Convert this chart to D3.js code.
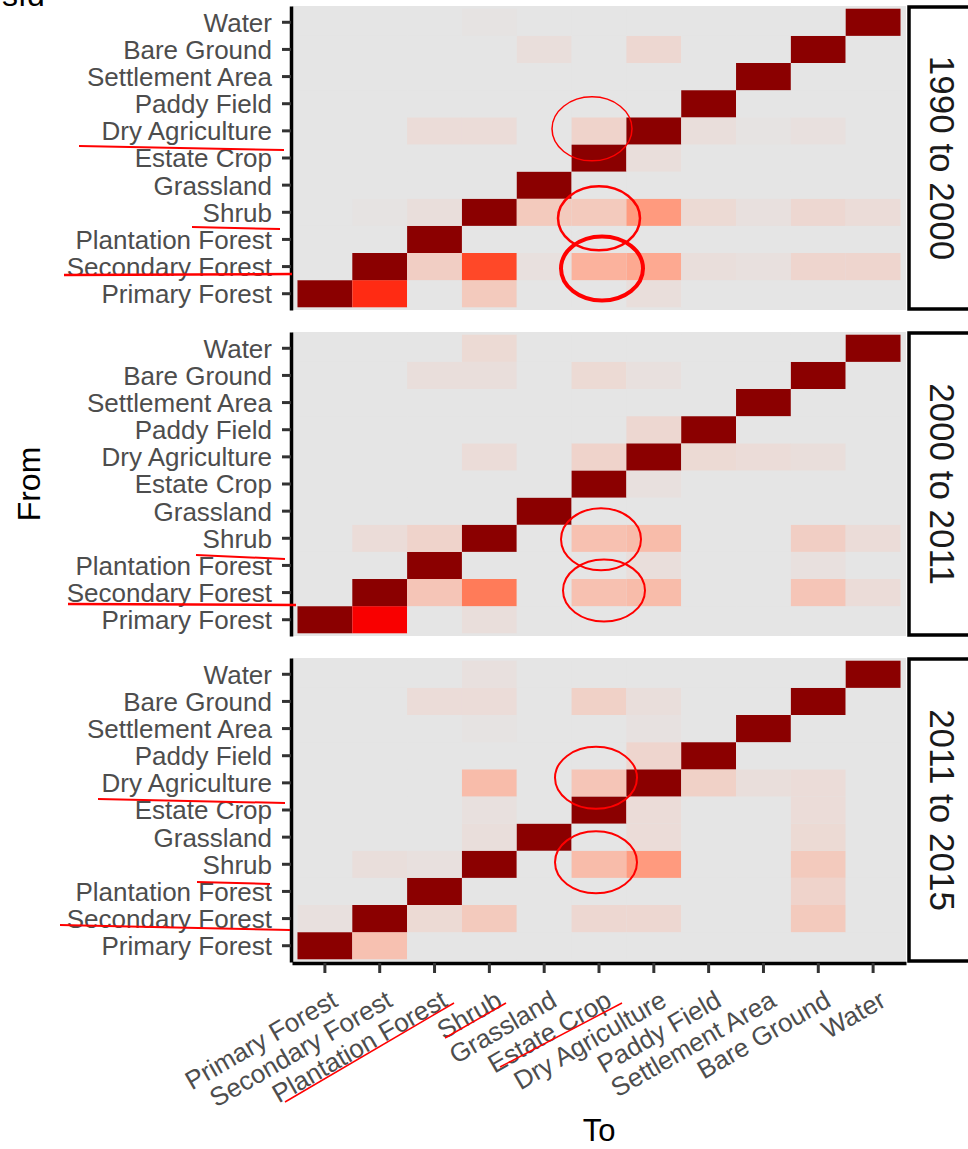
<!DOCTYPE html>
<html>
<head>
<meta charset="utf-8">
<script src="https://cdn.jsdelivr.net/npm/d3@7"></script>
<style>
  body { margin: 0; background: #fff; }
  text { font-family: "Liberation Sans", Arial, sans-serif; }
</style>
</head>
<body>
<svg id="chart" width="968" height="1149"></svg>
<script>
// land cover classes, used for both From (rows) and To (columns)
const classes = ["Primary Forest", "Secondary Forest", "Plantation Forest", "Shrub", "Grassland",
  "Estate Crop", "Dry Agriculture", "Paddy Field", "Settlement Area", "Bare Ground", "Water"];
const periods = ["1990 to 2000", "2000 to 2011", "2011 to 2015"];

// transition share (%), one row per From class (same order as classes), columns = To
const t1990_2000 = [
  [62, 33, 0, 6, 0, 0, 1.5, 0, 0, 0, 0],
  [0, 64, 5, 30, 1, 11, 13, 1.5, 1, 3.5, 3.5],
  [0, 0, 88, 0, 0, 0, 0, 0, 0, 0, 0],
  [0, 0.5, 1.5, 70, 6, 6, 16, 2.5, 1, 3, 2],
  [0, 0, 0, 0, 90, 0, 0, 0, 0, 0, 0],
  [0, 0, 0, 0, 0, 85, 1.5, 0, 0, 0, 0],
  [0, 0, 2, 2, 0, 4, 80, 1.5, 0.5, 1, 0],
  [0, 0, 0, 0, 0, 0, 0, 92, 0, 0, 0],
  [0, 0, 0, 0, 0, 0, 0, 0, 96, 0, 0],
  [0, 0, 0, 0, 1.5, 0, 3, 0, 0, 88, 0],
  [0, 0, 0, 0.5, 0, 0, 0, 0, 0, 0, 95]
];
const t2000_2011 = [
  [60, 36, 0, 1.5, 0, 0, 0, 0, 0, 0, 0],
  [0, 64, 7, 22, 0, 8, 9, 0, 0, 7, 2],
  [0, 0, 90, 0, 0, 0, 1.5, 0, 0, 1, 0],
  [0, 2, 4, 68, 0, 8, 9, 0, 0, 5, 2],
  [0, 0, 0, 0, 92, 0, 0, 0, 0, 0, 0],
  [0, 0, 0, 0, 0, 88, 1, 0, 0, 0, 0],
  [0, 0, 0, 2, 0, 4, 80, 2.5, 2, 1.5, 0],
  [0, 0, 0, 0, 0, 0, 3, 90, 0, 0, 0],
  [0, 0, 0, 0, 0, 0, 0, 0, 96, 0, 0],
  [0, 0, 1.5, 1.5, 0, 2.5, 1, 0, 0, 88, 0],
  [0, 0, 0, 2.5, 0, 0, 0, 0, 0, 0, 94]
];
const t2011_2015 = [
  [86, 8, 0, 0, 0, 0, 0, 0, 0, 0, 0],
  [1, 78, 2.5, 6, 0, 3, 3, 0, 0, 6, 0],
  [0, 0, 90, 0, 0, 0, 0, 0, 0, 4, 0],
  [0, 1.5, 1, 64, 0, 9, 16, 0, 0, 6, 0],
  [0, 0, 0, 1.5, 88, 0, 2, 0, 0, 2.5, 0],
  [0, 0, 0, 1, 0, 88, 2, 0, 0, 2, 0],
  [0, 0, 0, 9, 0, 7, 72, 4.5, 1.5, 2, 0],
  [0, 0, 0, 0, 0, 0, 3.5, 90, 0, 0, 0],
  [0, 0, 0, 0.5, 0, 0, 0.8, 0, 96, 0, 0],
  [0, 0, 2, 2, 0, 4.5, 1.5, 0, 0, 86, 0],
  [0, 0, 0, 1, 0, 0, 0, 0, 0, 0, 96]
];
const matrices = [t1990_2000, t2000_2011, t2011_2015];

const svg = d3.select("#chart");
const W = 968, H = 1149;
svg.append("rect").attr("width", W).attr("height", H).attr("fill", "#fff");

const panelLeft = 292, panelRight = 906;
const panelTops = [6, 332, 658], panelH = 304;
const labelColor = "#4d4d4d";

const xScale = d3.scaleBand().domain(classes).range([panelLeft, panelRight])
  .paddingInner(0).paddingOuter(0.1);

const color = d3.scaleLinear().domain([0, 35, 55])
  .range(["#e5e5e5", "#ff0000", "#8b0000"])
  .interpolate(d3.interpolateLab).clamp(true);

periods.forEach((p, pi) => {
  const top = panelTops[pi];
  const yScale = d3.scaleBand().domain(classes.slice().reverse())
    .range([top, top + panelH]).paddingInner(0).paddingOuter(0.1);

  const g = svg.append("g").attr("class", "panel");
  g.append("rect")
    .attr("x", panelLeft).attr("y", top)
    .attr("width", panelRight - panelLeft).attr("height", panelH)
    .attr("fill", "#e5e5e5");

  const cells = [];
  matrices[pi].forEach((row, ri) => row.forEach((v, ci) => {
    cells.push({from: classes[ri], to: classes[ci], v: v});
  }));
  g.selectAll("rect.tile").data(cells).enter().append("rect")
    .attr("class", "tile")
    .attr("x", d => xScale(d.to))
    .attr("y", d => yScale(d.from))
    .attr("width", xScale.bandwidth())
    .attr("height", yScale.bandwidth())
    .attr("fill", d => color(d.v));

  // y axis
  const ya = g.append("g")
    .attr("transform", "translate(" + (panelLeft - 1) + ",0)")
    .call(d3.axisLeft(yScale).tickSize(9).tickSizeOuter(0).tickPadding(10));
  ya.select(".domain").attr("stroke", "#000").attr("stroke-width", 3.5);
  ya.selectAll(".tick line").attr("stroke", "#333").attr("stroke-width", 3);
  ya.selectAll(".tick text").attr("font-size", 26).attr("fill", labelColor)
    .attr("font-family", "Liberation Sans, Arial, sans-serif")
    .attr("dy", "0.36em");

  // strip on the right
  g.append("rect")
    .attr("x", 909).attr("y", top + 1)
    .attr("width", 90).attr("height", panelH - 2)
    .attr("fill", "#fff").attr("stroke", "#000").attr("stroke-width", 3.5);
  g.append("text")
    .attr("transform", "translate(942," + (top + panelH / 2) + ") rotate(90)")
    .attr("text-anchor", "middle").attr("dominant-baseline", "central")
    .attr("font-size", 35).attr("fill", "#1a1a1a")
    .text(p);

  // x axis only under the last panel
  if (pi === periods.length - 1) {
    const xa = g.append("g")
      .attr("transform", "translate(0," + (top + panelH + 1) + ")")
      .call(d3.axisBottom(xScale).tickSize(10).tickSizeOuter(0));
    xa.select(".domain").attr("stroke", "#000").attr("stroke-width", 3.5);
    xa.selectAll(".tick line").attr("stroke", "#333").attr("stroke-width", 3);
    xa.selectAll(".tick text")
      .attr("font-size", 26).attr("fill", labelColor)
      .attr("font-family", "Liberation Sans, Arial, sans-serif")
      .attr("text-anchor", "end")
      .attr("x", 0).attr("y", 0).attr("dy", "0.72em")
      .attr("transform", "translate(5,26) rotate(-30)");
  }
});

// axis titles
svg.append("text")
  .attr("transform", "translate(29," + ((panelTops[0] + panelTops[2] + panelH) / 2) + ") rotate(-90)")
  .attr("text-anchor", "middle").attr("dominant-baseline", "central")
  .attr("font-size", 32).attr("fill", "#000").text("From");
svg.append("text")
  .attr("x", (panelLeft + panelRight) / 2).attr("y", 1141)
  .attr("text-anchor", "middle")
  .attr("font-size", 31).attr("fill", "#000").text("To");

// cut off text at the very top, as in the source image
svg.append("text").attr("x", 2).attr("y", 6)
  .attr("font-size", 32).attr("fill", "#000").text("sfd");

// red hand annotations: ellipses around cells (panel, from, to, offsets, radii, width)
const rings = [
  [0, "Dry Agriculture", "Estate Crop", -7, -2, 40, 32, 1.5],
  [0, "Shrub", "Estate Crop", 0, 6, 41, 32, 2.5],
  [0, "Secondary Forest", "Estate Crop", 3, 2, 41, 32, 4],
  [1, "Shrub", "Estate Crop", 2, 1, 40, 31, 2],
  [1, "Secondary Forest", "Estate Crop", 5, -2, 41, 31, 2],
  [2, "Dry Agriculture", "Estate Crop", -3, -5, 41, 31, 2],
  [2, "Shrub", "Estate Crop", -3, -2, 41, 31, 2]
];
rings.forEach(r => {
  const top = panelTops[r[0]];
  const yScale = d3.scaleBand().domain(classes.slice().reverse())
    .range([top, top + panelH]).paddingOuter(0.1);
  svg.append("ellipse")
    .attr("cx", xScale(r[2]) + xScale.bandwidth() / 2 + r[3])
    .attr("cy", yScale(r[1]) + yScale.bandwidth() / 2 + r[4])
    .attr("rx", r[5]).attr("ry", r[6])
    .attr("fill", "none").attr("stroke", "#ff0000").attr("stroke-width", r[7]);
});

// red underlines
const strokes = [
  [79, 146, 284, 150, 2], [192, 227, 280, 229, 2], [64, 275, 292, 274, 2.5],
  [196, 555, 285, 559, 2], [68, 604, 296, 605, 2.5],
  [98, 799, 285, 803, 2], [197, 882, 270, 884, 2], [60, 925, 290, 930, 2],
  [285, 1102, 454, 1003, 1.5], [445, 1038, 506, 1003, 1.5], [500, 1067, 622, 1003, 1.5]
];
svg.selectAll("line.mark").data(strokes).enter().append("line")
  .attr("class", "mark")
  .attr("x1", d => d[0]).attr("y1", d => d[1])
  .attr("x2", d => d[2]).attr("y2", d => d[3])
  .attr("stroke", "#ff0000").attr("stroke-width", d => d[4]);
</script>
</body>
</html>
